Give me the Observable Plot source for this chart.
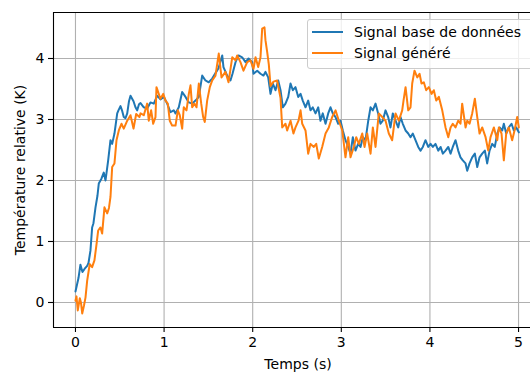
<!DOCTYPE html>
<html>
<head>
<meta charset="utf-8">
<script src="https://cdn.jsdelivr.net/npm/d3@7"></script>
<script src="https://cdn.jsdelivr.net/npm/@observablehq/plot@0.6"></script>
<style>
  html, body { margin: 0; padding: 0; background: white; }
  #wrap { position: relative; width: 530px; height: 372px; overflow: hidden; font-family: "DejaVu Sans", sans-serif; }
  .leg-box { position: absolute; left: 307px; top: 19px; width: 240px; height: 48px; background: rgba(255,255,255,0.8); border: 1px solid #cccccc; border-radius: 3px; }
  .leg-line { position: absolute; left: 312px; width: 31px; height: 2px; }
  .leg-text { position: absolute; left: 354px; font-size: 14px; line-height: 16px; white-space: nowrap; color: #000; }
</style>
</head>
<body>
<div id="wrap"></div>
<script>
// ---- data (time in s, relative temperature in K) ----
const seriesNames = ["Signal base de données", "Signal généré"];
const seriesColors = ["#1f77b4", "#ff7f0e"];
const xTicks = [0, 1, 2, 3, 4, 5];
const yTicks = [0, 1, 2, 3, 4];

const signalBase = [
[0,0.18],[0.034,0.4],[0.056,0.62],[0.079,0.5],[0.102,0.55],[0.132,0.6],[0.147,0.65],[0.169,0.85],[0.188,1.23],[0.203,1.3],
[0.226,1.56],[0.248,1.75],[0.263,1.95],[0.293,2.03],[0.319,2.13],[0.339,2.0],[0.369,2.33],[0.395,2.66],[0.414,2.6],[0.44,2.77],
[0.471,3.1],[0.485,3.15],[0.508,3.22],[0.525,3.15],[0.545,3.04],[0.564,3.02],[0.584,3.1],[0.604,3.3],[0.621,3.39],[0.655,3.3],
[0.677,3.2],[0.696,3.15],[0.717,3.25],[0.734,3.27],[0.771,3.2],[0.809,3.18],[0.846,3.28],[0.884,3.26],[0.922,3.39],[0.959,3.33],
[0.997,3.37],[1.035,3.26],[1.072,3.12],[1.109,3.15],[1.129,3.1],[1.166,3.2],[1.204,3.45],[1.242,3.37],[1.279,3.28],[1.317,3.26],
[1.354,3.31],[1.392,3.37],[1.43,3.72],[1.467,3.64],[1.504,3.61],[1.543,3.67],[1.58,3.76],[1.614,3.84],[1.656,4.05],[1.67,3.86],
[1.712,3.72],[1.749,3.64],[1.772,3.75],[1.806,3.94],[1.84,4.05],[1.881,4.02],[1.919,3.94],[1.953,4.0],[1.994,3.94],[2.009,3.75],
[2.051,3.8],[2.088,3.75],[2.122,3.72],[2.144,3.78],[2.175,3.69],[2.201,3.42],[2.227,3.59],[2.257,3.48],[2.288,3.64],[2.314,3.48],
[2.34,3.2],[2.37,3.26],[2.401,3.37],[2.427,3.59],[2.453,3.48],[2.483,3.53],[2.514,3.37],[2.54,3.42],[2.565,3.31],[2.596,3.2],
[2.626,3.31],[2.652,3.15],[2.678,3.2],[2.709,3.1],[2.739,3.2],[2.765,2.98],[2.791,3.1],[2.822,2.93],[2.852,3.1],[2.878,3.2],
[2.904,3.1],[2.935,3.04],[2.965,2.93],[2.991,2.98],[3.017,2.82],[3.047,2.66],[3.078,2.55],[3.104,2.44],[3.13,2.71],[3.16,2.49],
[3.19,2.6],[3.217,2.55],[3.243,2.71],[3.273,2.66],[3.304,2.98],[3.33,3.2],[3.356,3.15],[3.386,3.26],[3.416,3.1],[3.442,2.93],
[3.468,2.98],[3.499,3.15],[3.529,3.04],[3.555,2.87],[3.581,3.1],[3.612,2.98],[3.642,2.87],[3.668,3.04],[3.694,2.93],[3.725,2.82],
[3.755,2.77],[3.781,2.71],[3.807,2.77],[3.837,2.66],[3.868,2.55],[3.894,2.49],[3.92,2.55],[3.95,2.66],[3.981,2.55],[4.007,2.6],
[4.033,2.55],[4.063,2.6],[4.094,2.49],[4.12,2.55],[4.146,2.44],[4.176,2.49],[4.207,2.55],[4.233,2.44],[4.258,2.55],[4.289,2.66],
[4.319,2.49],[4.345,2.38],[4.371,2.33],[4.402,2.28],[4.421,2.16],[4.447,2.28],[4.477,2.38],[4.507,2.44],[4.534,2.22],[4.56,2.38],
[4.59,2.44],[4.62,2.49],[4.646,2.28],[4.673,2.49],[4.703,2.6],[4.732,2.55],[4.76,2.77],[4.786,2.87],[4.816,2.82],[4.834,2.93],
[4.861,2.77],[4.89,2.87],[4.921,2.93],[4.947,2.82],[4.974,2.87],[5.003,2.79]
];

const signalGenere = [
[0,0.03],[0.011,0.1],[0.026,-0.13],[0.049,0.07],[0.062,0.0],[0.076,-0.18],[0.096,-0.05],[0.113,0.08],[0.132,0.36],[0.147,0.5],
[0.161,0.63],[0.188,0.58],[0.214,0.69],[0.237,0.95],[0.256,1.18],[0.282,1.23],[0.301,1.13],[0.327,1.56],[0.358,1.46],[0.378,1.55],
[0.395,1.73],[0.414,2.22],[0.44,2.28],[0.463,2.66],[0.489,2.82],[0.519,2.93],[0.545,2.85],[0.584,2.98],[0.621,3.07],[0.655,2.85],
[0.685,3.09],[0.722,3.04],[0.734,3.1],[0.771,3.07],[0.809,3.26],[0.827,2.98],[0.854,3.15],[0.877,2.93],[0.903,3.04],[0.914,3.53],
[0.94,3.42],[0.959,3.34],[0.99,3.42],[1.016,3.31],[1.042,3.26],[1.064,2.98],[1.091,2.9],[1.129,2.9],[1.155,3.15],[1.177,3.07],
[1.204,2.85],[1.222,3.2],[1.253,3.15],[1.279,3.42],[1.298,3.56],[1.317,3.2],[1.343,3.26],[1.366,3.2],[1.392,3.59],[1.419,3.26],
[1.441,3.04],[1.459,2.96],[1.486,3.31],[1.516,3.53],[1.543,3.64],[1.58,3.72],[1.617,4.08],[1.648,3.69],[1.693,3.78],[1.727,3.61],
[1.769,4.02],[1.806,3.97],[1.825,4.05],[1.862,3.94],[1.896,3.8],[1.938,3.94],[1.975,3.97],[2.009,3.83],[2.032,4.02],[2.062,3.86],
[2.088,4.02],[2.107,4.49],[2.133,4.51],[2.144,4.3],[2.164,4.1],[2.182,3.9],[2.201,3.55],[2.235,3.62],[2.276,3.64],[2.314,3.35],
[2.333,2.87],[2.37,2.93],[2.389,2.82],[2.427,2.98],[2.46,2.77],[2.483,2.87],[2.517,2.98],[2.54,3.15],[2.559,2.93],[2.596,2.82],
[2.626,2.44],[2.652,2.6],[2.69,2.55],[2.717,2.6],[2.746,2.36],[2.784,2.55],[2.822,2.77],[2.859,2.87],[2.897,3.04],[2.935,3.15],
[2.972,2.98],[3.011,2.82],[3.047,2.38],[3.078,2.71],[3.104,2.38],[3.141,2.55],[3.168,2.71],[3.198,2.6],[3.236,2.77],[3.262,2.55],
[3.292,2.77],[3.33,2.44],[3.356,2.87],[3.386,2.55],[3.423,3.1],[3.462,3.04],[3.499,2.98],[3.536,2.77],[3.574,2.66],[3.612,3.1],
[3.649,2.98],[3.687,3.15],[3.702,3.31],[3.725,3.53],[3.755,3.15],[3.781,3.2],[3.8,3.59],[3.826,3.8],[3.857,3.69],[3.883,3.75],
[3.905,3.59],[3.931,3.61],[3.958,3.48],[3.988,3.53],[4.018,3.42],[4.044,3.48],[4.071,3.31],[4.101,3.37],[4.139,3.15],[4.176,2.87],
[4.207,2.71],[4.233,2.87],[4.258,2.93],[4.289,2.87],[4.319,2.98],[4.345,2.93],[4.364,3.26],[4.402,2.87],[4.421,2.98],[4.447,2.93],
[4.477,3.1],[4.507,3.34],[4.534,3.04],[4.56,2.77],[4.59,2.87],[4.628,2.71],[4.658,2.49],[4.684,2.71],[4.722,2.87],[4.76,2.66],
[4.778,2.87],[4.808,2.77],[4.834,2.33],[4.861,2.77],[4.89,2.87],[4.928,2.66],[4.955,2.82],[4.985,3.04],[5.003,2.87]
];

const xDomain = [-0.248, 5.135];
const yDomain = [-0.41, 4.754];

const rows = [
  ...signalBase.map(([t, v]) => ({t, v, s: seriesNames[0]})),
  ...signalGenere.map(([t, v]) => ({t, v, s: seriesNames[1]}))
];

const gridStyle = {stroke: "#b0b0b0", strokeOpacity: 1, strokeWidth: 1.1};

const chart = Plot.plot({
  width: 530,
  height: 372,
  marginLeft: 53,
  marginRight: 0,
  marginTop: 12,
  marginBottom: 45,
  style: {fontFamily: "DejaVu Sans, sans-serif", fontSize: "14px", color: "#000", background: "white", overflow: "visible"},
  x: {domain: xDomain},
  y: {domain: yDomain},
  color: {domain: seriesNames, range: seriesColors},
  marks: [
    Plot.gridX(xTicks, gridStyle),
    Plot.gridY(yTicks, gridStyle),
    Plot.line(rows.filter(d => d.s === seriesNames[0]), {x: "t", y: "v", stroke: "s", strokeWidth: 2}),
    Plot.line(rows.filter(d => d.s === seriesNames[1]), {x: "t", y: "v", stroke: "s", strokeWidth: 2}),
    Plot.ruleX([xDomain[0]], {stroke: "#000", strokeWidth: 1.1}),
    Plot.ruleY([yDomain[0], yDomain[1]], {stroke: "#000", strokeWidth: 1.1}),
    Plot.axisX(xTicks, {tickSize: 5, tickPadding: 5, tickFormat: "d", label: null, fontSize: 14, strokeWidth: 1.1}),
    Plot.axisY(yTicks, {tickSize: 5, tickPadding: 4, tickFormat: "d", label: null, fontSize: 14, strokeWidth: 1.1}),
    Plot.text(["Temps (s)"], {frameAnchor: "bottom", dx: 6, dy: 37, lineAnchor: "middle", textAnchor: "middle", fontSize: 14}),
    Plot.text(["Température relative (K)"], {frameAnchor: "left", rotate: -90, dx: -33, textAnchor: "middle", lineAnchor: "middle", fontSize: 14})
  ]
});

const wrap = document.getElementById("wrap");
wrap.appendChild(chart);

// legend (inside the axes, upper right)
const box = document.createElement("div");
box.className = "leg-box";
wrap.appendChild(box);
const legendY = [32, 53];
seriesNames.forEach((name, i) => {
  const ln = document.createElement("div");
  ln.className = "leg-line";
  ln.style.top = (legendY[i] - 1) + "px";
  ln.style.background = seriesColors[i];
  wrap.appendChild(ln);
  const tx = document.createElement("div");
  tx.className = "leg-text";
  tx.style.top = (legendY[i] - 8) + "px";
  tx.textContent = name;
  wrap.appendChild(tx);
});
</script>
</body>
</html>
